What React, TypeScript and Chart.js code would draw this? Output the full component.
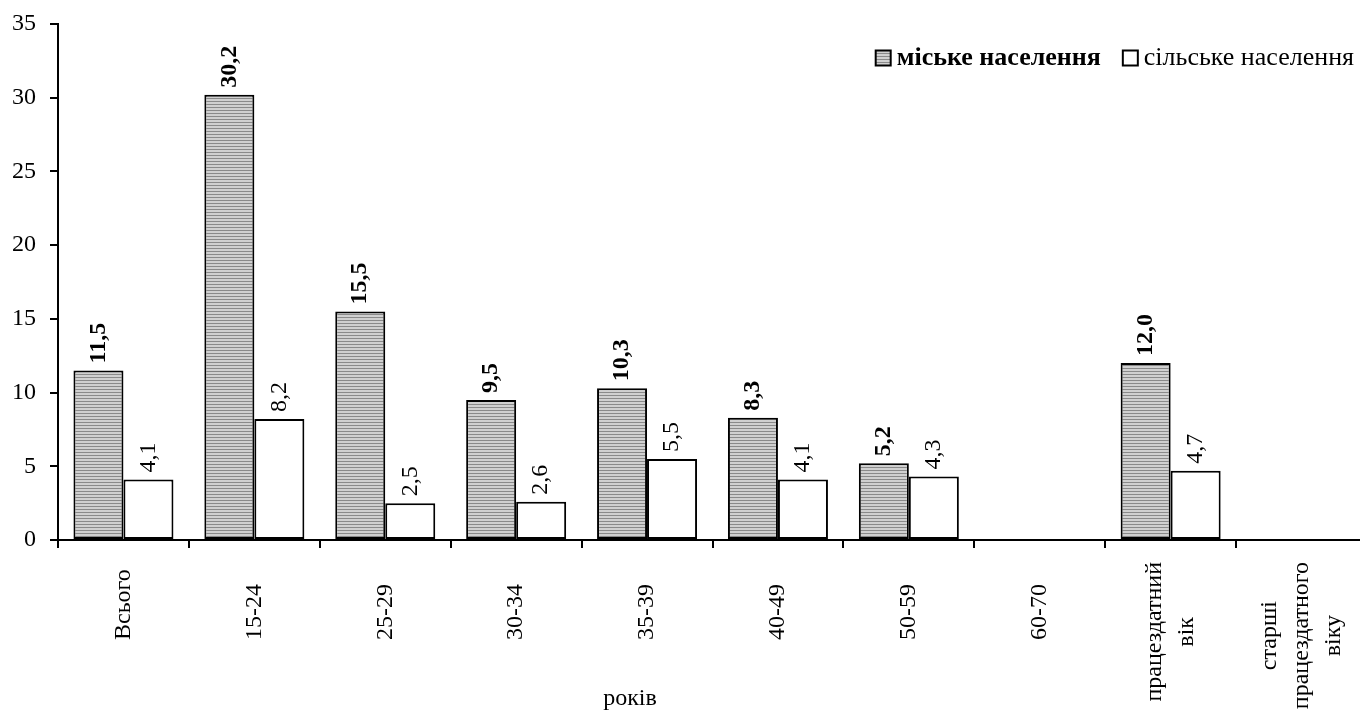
import React, { useEffect, useRef } from 'react';
import { Chart, registerables } from 'chart.js';

Chart.register(...registerables);

// ---- data ----
const categories: string[][] = [
  ['Всього'],
  ['15-24'],
  ['25-29'],
  ['30-34'],
  ['35-39'],
  ['40-49'],
  ['50-59'],
  ['60-70'],
  ['працездатний', 'вік'],
  ['старші', 'працездатного', 'віку'],
];
const urbanValues: (number | null)[] = [11.5, 30.2, 15.5, 9.5, 10.3, 8.3, 5.2, null, 12.0, null];
const ruralValues: (number | null)[] = [4.1, 8.2, 2.5, 2.6, 5.5, 4.1, 4.3, null, 4.7, null];
const seriesNames = ['міське населення', 'сільське населення'];
const yMin = 0;
const yMax = 35;
const yStep = 5;
const xAxisTitle = 'років';

const FONT = "'Liberation Serif', 'Times New Roman', serif";
const W = 1367;
const H = 722;

function fmt(v: number) {
  return v.toFixed(1).replace('.', ',');
}

function makePattern(): CanvasPattern | string {
  const c = document.createElement('canvas');
  c.width = 4;
  c.height = 3;
  const g = c.getContext('2d');
  if (!g) return '#c0c0c0';
  g.fillStyle = '#d0d0d0';
  g.fillRect(0, 0, 4, 3);
  g.fillStyle = '#8a8a8a';
  g.fillRect(0, 2, 4, 1);
  const p = g.createPattern(c, 'repeat');
  return p || '#c0c0c0';
}

export default function App() {
  const ref = useRef<HTMLCanvasElement>(null);

  useEffect(() => {
    const canvas = ref.current;
    if (!canvas) return;
    const pattern = makePattern();

    const overlay = {
      id: 'overlay',
      afterDraw(chart: any) {
        const ctx: CanvasRenderingContext2D = chart.ctx;
        const area = chart.chartArea;
        const xs = chart.scales.x;
        ctx.save();
        ctx.fillStyle = '#000';

        // value labels
        [urbanValues, ruralValues].forEach((vals, di) => {
          const meta = chart.getDatasetMeta(di);
          ctx.font = `${di === 0 ? 'bold ' : ''}24px ${FONT}`;
          meta.data.forEach((bar: any, j: number) => {
            const v = vals[j];
            if (v == null) return;
            ctx.save();
            ctx.translate(bar.x, bar.y - 7);
            ctx.rotate(-Math.PI / 2);
            ctx.textAlign = 'left';
            ctx.textBaseline = 'middle';
            ctx.fillText(fmt(v), 0, 0);
            ctx.restore();
          });
        });

        // x category labels
        ctx.font = `24px ${FONT}`;
        const LH = 32;
        categories.forEach((lines, i) => {
          const x = xs.getPixelForValue(i);
          const maxW = Math.max(...lines.map((l) => ctx.measureText(l).width));
          const bottom = Math.max(area.bottom + 100, area.bottom + 22 + maxW);
          const cy = bottom - maxW / 2;
          lines.forEach((l, j) => {
            ctx.save();
            ctx.translate(x + (j - (lines.length - 1) / 2) * LH, cy);
            ctx.rotate(-Math.PI / 2);
            ctx.textAlign = 'center';
            ctx.textBaseline = 'middle';
            ctx.fillText(l, 0, 0);
            ctx.restore();
          });
        });

        // x axis title
        ctx.font = `24px ${FONT}`;
        ctx.textAlign = 'center';
        ctx.textBaseline = 'middle';
        ctx.fillText(xAxisTitle, area.left + (area.right - area.left) * 0.437, area.bottom + 159);

        // legend
        const ly = area.top + 34;
        const box = 15;
        ctx.textBaseline = 'middle';
        ctx.textAlign = 'left';
        ctx.font = `26px ${FONT}`;
        const w2 = ctx.measureText(seriesNames[1]).width;
        const t2 = 1354 - w2;
        const b2 = t2 - 6 - box;
        ctx.font = `bold 26px ${FONT}`;
        const w1 = ctx.measureText(seriesNames[0]).width;
        const t1 = b2 - 22 - w1;
        const b1 = t1 - 6 - box;
        // box 1
        ctx.fillStyle = pattern as any;
        ctx.fillRect(b1, ly - box / 2, box, box);
        ctx.strokeStyle = '#000';
        ctx.lineWidth = 2;
        ctx.strokeRect(b1, ly - box / 2, box, box);
        ctx.fillStyle = '#000';
        ctx.fillText(seriesNames[0], t1, ly);
        // box 2
        ctx.fillStyle = '#fff';
        ctx.fillRect(b2, ly - box / 2, box, box);
        ctx.strokeRect(b2, ly - box / 2, box, box);
        ctx.fillStyle = '#000';
        ctx.font = `26px ${FONT}`;
        ctx.fillText(seriesNames[1], t2, ly);

        ctx.restore();
      },
    };

    const chart = new Chart(canvas, {
      type: 'bar',
      data: {
        labels: categories.map((c) => c.join(' ')),
        datasets: [
          {
            label: seriesNames[0],
            data: urbanValues as any,
            backgroundColor: pattern as any,
            borderColor: '#000',
            borderWidth: 2,
            borderSkipped: false,
            categoryPercentage: 0.764,
            barPercentage: 1,
          },
          {
            label: seriesNames[1],
            data: ruralValues as any,
            backgroundColor: '#fff',
            borderColor: '#000',
            borderWidth: 2,
            borderSkipped: false,
            categoryPercentage: 0.764,
            barPercentage: 1,
          },
        ],
      },
      options: {
        responsive: false,
        animation: false,
        devicePixelRatio: 1,
        layout: { padding: { top: 24, left: 0, right: 0, bottom: 0 } },
        plugins: {
          legend: { display: false },
          tooltip: { enabled: false },
          title: { display: false },
        },
        scales: {
          x: {
            type: 'category',
            offset: true,
            grid: {
              offset: true,
              drawOnChartArea: false,
              drawTicks: true,
              tickLength: 8,
              color: '#000',
              lineWidth: 2,
            },
            border: { display: true, color: '#000', width: 2 },
            ticks: { display: false },
            afterFit: (scale: any) => {
              scale.height = 182;
              scale.paddingLeft = 0;
              scale.paddingRight = 0;
            },
          },
          y: {
            min: yMin,
            max: yMax,
            ticks: {
              stepSize: yStep,
              color: '#000',
              padding: 14,
              font: { family: FONT, size: 24 },
            },
            grid: {
              drawOnChartArea: false,
              drawTicks: true,
              tickLength: 8,
              color: '#000',
              lineWidth: 2,
            },
            border: { display: true, color: '#000', width: 2 },
            afterFit: (scale: any) => {
              scale.width = 58;
              scale.paddingTop = 0;
              scale.paddingBottom = 0;
            },
          },
        },
      },
      plugins: [overlay],
    });

    return () => chart.destroy();
  }, []);

  return (
    <div
      style={{
        position: 'fixed',
        left: 0,
        top: 0,
        width: 1360,
        height: H,
        overflow: 'hidden',
        background: '#fff',
      }}
    >
      <canvas ref={ref} width={W} height={H} style={{ display: 'block', width: W, height: H }} />
    </div>
  );
}
